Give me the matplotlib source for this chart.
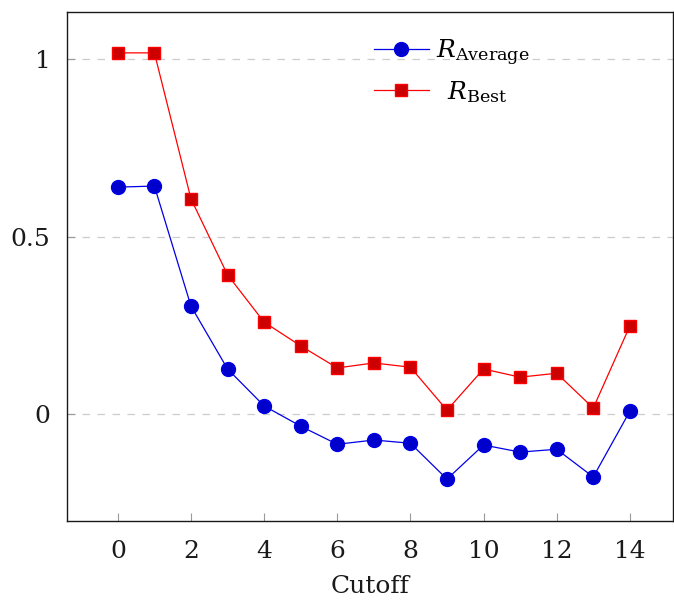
import matplotlib.pyplot as plt
import numpy as np

cutoff = np.arange(15)
r_average = [0.639, 0.642, 0.304, 0.127, 0.023, -0.034, -0.085, -0.073,
             -0.082, -0.183, -0.087, -0.107, -0.099, -0.177, 0.008]
r_best = [1.017, 1.017, 0.606, 0.392, 0.259, 0.192, 0.130, 0.144,
          0.132, 0.011, 0.127, 0.104, 0.115, 0.017, 0.248]
xticks = [0, 2, 4, 6, 8, 10, 12, 14]
yticks = [0, 0.5, 1]
ytick_labels = ["0", "0.5", "1"]

plt.rcParams['font.family'] = ['DejaVu Serif']
plt.rcParams['mathtext.fontset'] = 'dejavuserif'

fig = plt.figure(figsize=(6.74, 6.04), dpi=100)
ax = fig.add_axes([0.0994, 0.1374, 0.8991, 0.8427])

ax.plot(cutoff, r_average, color='#0000e6', lw=0.9, marker='o', markersize=10,
        markerfacecolor='#0000cc', markeredgecolor='#0000e6',
        label=r'$R_{\mathrm{Average}}$', zorder=3)
ax.plot(cutoff, r_best, color='#ff0000', lw=0.9, marker='s', markersize=9,
        markerfacecolor='#cc0000', markeredgecolor='#ff0000',
        label=r'$\enspace R_{\mathrm{Best}}$', zorder=3)

ax.set_xlim(-1.39, 15.18)
ax.set_ylim(-0.301, 1.132)
ax.set_xticks(xticks)
ax.set_yticks(yticks)
ax.set_yticklabels(ytick_labels)
ax.tick_params(direction='in', length=6, width=0.8, color='#999999',
               labelsize=18, labelcolor='#1a1a1a')
ax.tick_params(axis='x', top=False, pad=14)
ax.tick_params(axis='y', right=False, pad=12)
ax.yaxis.grid(True, linestyle=(0, (6, 6)), color='#cccccc', lw=0.9)
ax.set_axisbelow(True)
for s in ax.spines.values():
    s.set_linewidth(1.0)
    s.set_color('#1a1a1a')

ax.set_xlabel("Cutoff", fontsize=18, color='#1a1a1a', labelpad=8)

ax.legend(loc='upper left', bbox_to_anchor=(0.49, 0.97), frameon=False,
          fontsize=18, handlelength=2.2, handletextpad=0.3,
          labelspacing=0.45, borderaxespad=0)

fig.savefig("out.png", dpi=100)
